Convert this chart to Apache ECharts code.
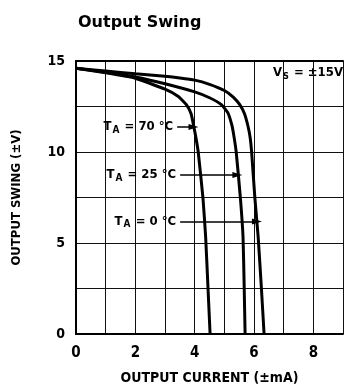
<!DOCTYPE html>
<html>
<head>
<meta charset="utf-8">
<script src="https://cdn.jsdelivr.net/npm/echarts@6/dist/echarts.min.js"></script>
<style>
html,body{margin:0;padding:0;background:#fff;}
#c{width:346px;height:390px;}
</style>
</head>
<body>
<div id="c"></div>
<script>
// Data (x: output current ±mA, y: output swing ±V)
const curve0C = [[0,14.6],[1,14.45],[2,14.3],[3,14.16],[3.5,14.07],[4,13.95],[4.5,13.72],[5,13.38],[5.3,13.02],[5.52,12.6],[5.68,12.1],[5.8,11.4],[5.87,10.8],[5.92,10.0],[6.03,7.46],[6.14,5.34],[6.25,2.5],[6.34,0]];
const curve25C = [[0,14.6],[1,14.38],[2,14.12],[3,13.75],[4,13.3],[4.5,12.98],[4.9,12.6],[5.12,12.15],[5.25,11.5],[5.32,10.9],[5.4,10.0],[5.54,7.5],[5.63,5.34],[5.67,2.5],[5.7,0]];
const curve70C = [[0,14.6],[1,14.35],[2,14.05],[3,13.45],[3.45,13.05],[3.72,12.6],[3.88,12.1],[3.97,11.4],[4.03,10.9],[4.12,10.0],[4.28,7.46],[4.37,5.34],[4.45,2.5],[4.52,0]];
const xTicks = [0,2,4,6,8];
const yTicks = [0,5,10,15];
const labels = ['70', '25', '0'];
// arrow anchors: [startX, endX, y]
const arrow70 = [3.41, 3.96, 11.37];
const arrow25 = [3.51, 5.44, 8.74];
const arrow0 = [3.51, 6.1, 6.18];

const FONT = '"DejaVu Sans Condensed","Liberation Sans Narrow",sans-serif';
const chart = echarts.init(document.getElementById('c'));

function arrowLine(a, temp) {
  return [
    {coord:[a[0], a[2]], label:{show:true, position:'start', distance:4,
      formatter:'{t|T}{s|A}{t| = ' + temp + ' °C}',
      rich:{
        t:{fontFamily:FONT, fontWeight:'bold', fontSize:13, color:'#000', lineHeight:16},
        s:{fontFamily:FONT, fontWeight:'bold', fontSize:10, color:'#000', lineHeight:10, padding:[8,1,0,1], verticalAlign:'bottom'}
      }}},
    {coord:[a[1], a[2]]}
  ];
}

const lineStyle = {color:'#000', width:3};
chart.setOption({
  animation:false,
  title:{text:'Output Swing', left:73, top:10,
    textStyle:{fontFamily:'"DejaVu Sans",sans-serif', fontWeight:'bold', fontSize:16, color:'#000'}},
  grid:{left:76, top:61, width:274.5, height:278},
  xAxis:[{
    type:'value', min:0, max:9, interval:1,
    name:'OUTPUT CURRENT (±mA)', nameLocation:'middle', nameGap:37,
    nameTextStyle:{fontFamily:FONT, fontWeight:'bold', fontSize:14, color:'#000'},
    axisLine:{show:true, lineStyle:{color:'#000', width:2}},
    axisTick:{show:false},
    axisLabel:{margin:12, fontFamily:FONT, fontWeight:'bold', fontSize:15, color:'#000',
      formatter:v => xTicks.indexOf(v) >= 0 ? String(v) : ''},
    splitLine:{show:true, lineStyle:{color:'#111', width:1}}
  },{
    type:'value', min:0, max:9, position:'top',
    axisLine:{show:true, lineStyle:{color:'#000', width:2}},
    axisTick:{show:false}, axisLabel:{show:false}, splitLine:{show:false}
  }],
  yAxis:{
    type:'value', min:0, max:15, interval:2.5,
    name:'OUTPUT SWING (±V)', nameLocation:'middle', nameGap:53,
    nameTextStyle:{fontFamily:FONT, fontWeight:'bold', fontSize:13, color:'#000'},
    axisLine:{show:true, lineStyle:{color:'#000', width:2}},
    axisTick:{show:false},
    axisLabel:{margin:11, fontFamily:FONT, fontWeight:'bold', fontSize:14, color:'#000',
      formatter:v => yTicks.indexOf(v) >= 0 ? String(v) : ''},
    splitLine:{show:true, lineStyle:{color:'#111', width:1}}
  },
  series:[
    {type:'line', data:curve0C, smooth:0.15, symbol:'none', lineStyle:lineStyle},
    {type:'line', data:curve25C, smooth:0.15, symbol:'none', lineStyle:lineStyle},
    {type:'line', data:curve70C, smooth:0.15, symbol:'none', lineStyle:lineStyle,
      markLine:{silent:true, symbol:['none','triangle'], symbolSize:[6,10],
        lineStyle:{color:'#000', width:1.5, type:'solid'},
        data:[arrowLine(arrow70, labels[0]), arrowLine(arrow25, labels[1]), arrowLine(arrow0, labels[2])]}
    }
  ],
  graphic:[{
    type:'text', left:273, top:64,
    style:{text:'{t|V}{s|S}{t| = ±15V}', fill:'#000',
      rich:{
        t:{fontFamily:FONT, fontWeight:'bold', fontSize:13, fill:'#000', lineHeight:16},
        s:{fontFamily:FONT, fontWeight:'bold', fontSize:9, fill:'#000', lineHeight:10, padding:[8,1,0,1], verticalAlign:'bottom'}
      }}
  }]
});
</script>
</body>
</html>
